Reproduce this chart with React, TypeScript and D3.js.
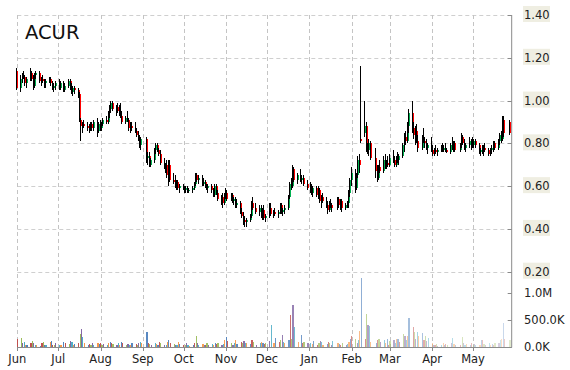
import React from "react";
import * as d3 from "d3";

type C = [number, number, number, number, number]; // open, high, low, close, volume(K)

const title = "ACUR";
const monthLabels = ["Jun", "Jul", "Aug", "Sep", "Oct", "Nov", "Dec", "Jan", "Feb", "Mar", "Apr", "May"];
const priceTicks = [0.2, 0.4, 0.6, 0.8, 1.0, 1.2, 1.4];
const volumeTicks = [0, 500000, 1000000];
const holidays = ["2018-07-04", "2018-09-03", "2018-11-22", "2018-12-05", "2018-12-25", "2019-01-01", "2019-01-21", "2019-02-18", "2019-04-19", "2019-05-27"];
const volumeColors = ["#4F81BD", "#C0504D", "#9BBB59", "#8064A2", "#4BACC6", "#F79646"];

const jun18: C[] = [
  [1.14, 1.15, 1.05, 1.06, 150], [1.06, 1.12, 1.04, 1.10, 170], [1.10, 1.13, 1.08, 1.12, 60], [1.12, 1.14, 1.10, 1.11, 90],
  [1.11, 1.12, 1.07, 1.08, 40], [1.08, 1.11, 1.06, 1.10, 30], [1.10, 1.15, 1.09, 1.13, 60], [1.13, 1.14, 1.09, 1.10, 100],
  [1.10, 1.12, 1.05, 1.07, 70], [1.07, 1.13, 1.06, 1.12, 40], [1.12, 1.14, 1.10, 1.13, 30], [1.13, 1.14, 1.08, 1.09, 20],
  [1.09, 1.11, 1.07, 1.10, 70], [1.10, 1.12, 1.08, 1.09, 80], [1.09, 1.10, 1.06, 1.08, 40], [1.08, 1.10, 1.06, 1.09, 30],
  [1.09, 1.11, 1.08, 1.10, 90], [1.10, 1.11, 1.07, 1.08, 100], [1.08, 1.09, 1.05, 1.06, 40], [1.06, 1.08, 1.04, 1.07, 30],
  [1.07, 1.09, 1.05, 1.08, 60],
];
const jul18: C[] = [
  [1.08, 1.10, 1.05, 1.06, 40], [1.06, 1.09, 1.05, 1.08, 30], [1.08, 1.09, 1.04, 1.05, 80], [1.05, 1.08, 1.04, 1.07, 60],
  [1.07, 1.10, 1.06, 1.09, 50], [1.09, 1.10, 1.05, 1.06, 110], [1.06, 1.08, 1.03, 1.04, 90], [1.04, 1.07, 1.02, 1.06, 40],
  [1.06, 1.07, 1.03, 1.05, 50], [1.05, 1.06, 1.01, 1.03, 60], [1.03, 1.04, 0.90, 0.91, 230], [0.91, 0.92, 0.81, 0.88, 330],
  [0.88, 0.90, 0.85, 0.89, 180], [0.89, 0.91, 0.87, 0.88, 70], [0.88, 0.90, 0.86, 0.87, 40], [0.87, 0.89, 0.85, 0.88, 50],
  [0.88, 0.90, 0.86, 0.89, 30], [0.89, 0.90, 0.86, 0.87, 60], [0.87, 0.91, 0.86, 0.90, 40], [0.90, 0.92, 0.83, 0.86, 70],
  [0.86, 0.90, 0.85, 0.89, 50],
];
const aug18: C[] = [
  [0.89, 0.91, 0.86, 0.87, 60], [0.87, 0.90, 0.86, 0.89, 40], [0.89, 0.92, 0.88, 0.91, 50], [0.91, 0.93, 0.89, 0.90, 30],
  [0.90, 0.95, 0.89, 0.94, 70], [0.94, 0.98, 0.92, 0.96, 90], [0.96, 1.00, 0.94, 0.99, 60], [0.99, 1.00, 0.95, 0.96, 50],
  [0.96, 0.98, 0.93, 0.97, 40], [0.97, 0.99, 0.94, 0.95, 60], [0.95, 0.98, 0.93, 0.94, 30], [0.94, 0.99, 0.92, 0.93, 90],
  [0.93, 0.95, 0.89, 0.90, 60], [0.90, 0.93, 0.89, 0.92, 40], [0.92, 0.95, 0.90, 0.91, 50], [0.91, 0.92, 0.86, 0.87, 30],
  [0.87, 0.90, 0.85, 0.88, 40], [0.88, 0.90, 0.86, 0.87, 60], [0.87, 0.90, 0.85, 0.86, 50], [0.86, 0.87, 0.83, 0.84, 40],
  [0.84, 0.86, 0.81, 0.82, 70], [0.82, 0.84, 0.78, 0.79, 80], [0.79, 0.83, 0.77, 0.82, 60],
];
const sep18: C[] = [
  [0.82, 0.83, 0.71, 0.73, 270], [0.73, 0.76, 0.70, 0.74, 60], [0.74, 0.76, 0.69, 0.70, 50], [0.70, 0.73, 0.69, 0.72, 40],
  [0.72, 0.78, 0.71, 0.77, 70], [0.77, 0.80, 0.75, 0.79, 50], [0.79, 0.80, 0.76, 0.77, 40], [0.77, 0.78, 0.74, 0.75, 90],
  [0.75, 0.77, 0.70, 0.71, 60], [0.71, 0.73, 0.68, 0.69, 30], [0.69, 0.71, 0.66, 0.70, 40], [0.70, 0.72, 0.64, 0.65, 80],
  [0.65, 0.72, 0.60, 0.70, 130], [0.70, 0.72, 0.62, 0.63, 60], [0.63, 0.66, 0.61, 0.62, 50], [0.62, 0.65, 0.59, 0.60, 40],
  [0.60, 0.63, 0.58, 0.62, 30], [0.62, 0.63, 0.58, 0.59, 90], [0.59, 0.61, 0.57, 0.60, 50],
];
const oct18: C[] = [
  [0.60, 0.61, 0.58, 0.59, 40], [0.59, 0.60, 0.57, 0.58, 30], [0.58, 0.60, 0.57, 0.59, 60], [0.59, 0.60, 0.57, 0.58, 40],
  [0.58, 0.59, 0.57, 0.58, 20], [0.58, 0.60, 0.57, 0.59, 30], [0.59, 0.62, 0.58, 0.61, 70], [0.61, 0.66, 0.60, 0.65, 200],
  [0.65, 0.66, 0.62, 0.63, 60], [0.63, 0.65, 0.61, 0.64, 40], [0.64, 0.65, 0.60, 0.61, 50], [0.61, 0.64, 0.60, 0.62, 30],
  [0.62, 0.63, 0.59, 0.60, 40], [0.60, 0.61, 0.58, 0.59, 60], [0.59, 0.61, 0.57, 0.60, 30], [0.60, 0.61, 0.57, 0.58, 50],
  [0.58, 0.59, 0.55, 0.56, 40], [0.56, 0.61, 0.55, 0.60, 70], [0.60, 0.61, 0.56, 0.57, 50], [0.57, 0.58, 0.53, 0.54, 60],
  [0.54, 0.56, 0.51, 0.55, 40], [0.55, 0.57, 0.50, 0.52, 50], [0.52, 0.57, 0.51, 0.56, 130],
];
const nov18: C[] = [
  [0.56, 0.59, 0.54, 0.57, 185], [0.57, 0.58, 0.53, 0.54, 100], [0.54, 0.57, 0.53, 0.56, 60], [0.56, 0.57, 0.52, 0.53, 40],
  [0.53, 0.55, 0.51, 0.54, 70], [0.54, 0.55, 0.50, 0.51, 130], [0.51, 0.54, 0.50, 0.52, 50], [0.52, 0.53, 0.47, 0.48, 90],
  [0.48, 0.50, 0.45, 0.46, 60], [0.46, 0.48, 0.42, 0.44, 100], [0.44, 0.46, 0.41, 0.43, 70], [0.43, 0.45, 0.41, 0.44, 60],
  [0.44, 0.47, 0.43, 0.46, 50], [0.46, 0.53, 0.45, 0.52, 120], [0.52, 0.55, 0.49, 0.50, 80], [0.50, 0.52, 0.47, 0.48, 40],
  [0.48, 0.51, 0.46, 0.50, 60], [0.50, 0.51, 0.45, 0.46, 90], [0.46, 0.50, 0.44, 0.49, 70], [0.49, 0.51, 0.44, 0.45, 50],
  [0.45, 0.47, 0.43, 0.46, 60],
];
const dec18: C[] = [
  [0.46, 0.52, 0.45, 0.50, 100], [0.50, 0.52, 0.46, 0.47, 400], [0.47, 0.49, 0.45, 0.48, 60], [0.48, 0.50, 0.46, 0.47, 160],
  [0.47, 0.49, 0.45, 0.48, 80], [0.48, 0.52, 0.47, 0.51, 120], [0.51, 0.52, 0.47, 0.48, 220], [0.48, 0.50, 0.46, 0.49, 90],
  [0.49, 0.51, 0.47, 0.50, 60], [0.50, 0.56, 0.49, 0.55, 130], [0.55, 0.62, 0.54, 0.61, 590], [0.61, 0.64, 0.58, 0.60, 140],
  [0.60, 0.70, 0.59, 0.68, 790], [0.68, 0.69, 0.62, 0.63, 360], [0.63, 0.66, 0.61, 0.65, 80], [0.65, 0.68, 0.62, 0.63, 220],
  [0.63, 0.65, 0.61, 0.64, 70], [0.64, 0.65, 0.60, 0.61, 90], [0.61, 0.63, 0.58, 0.59, 60],
];
const jan19: C[] = [
  [0.59, 0.62, 0.57, 0.60, 70], [0.60, 0.61, 0.56, 0.57, 50], [0.57, 0.60, 0.55, 0.59, 100], [0.59, 0.60, 0.55, 0.56, 40],
  [0.56, 0.60, 0.54, 0.58, 60], [0.58, 0.59, 0.52, 0.53, 110], [0.53, 0.56, 0.50, 0.55, 80], [0.55, 0.57, 0.52, 0.53, 40],
  [0.53, 0.55, 0.50, 0.51, 50], [0.51, 0.53, 0.47, 0.49, 90], [0.49, 0.53, 0.48, 0.52, 60], [0.52, 0.54, 0.50, 0.51, 30],
  [0.51, 0.52, 0.48, 0.50, 100], [0.50, 0.55, 0.49, 0.54, 70], [0.54, 0.55, 0.50, 0.51, 50], [0.51, 0.54, 0.49, 0.53, 40],
  [0.53, 0.54, 0.48, 0.50, 60], [0.50, 0.52, 0.49, 0.51, 30], [0.51, 0.53, 0.50, 0.52, 50], [0.52, 0.58, 0.50, 0.57, 80],
  [0.57, 0.64, 0.55, 0.63, 150],
];
const feb19: C[] = [
  [0.63, 0.69, 0.60, 0.66, 200], [0.66, 0.68, 0.57, 0.59, 150], [0.59, 0.66, 0.58, 0.65, 70], [0.65, 0.74, 0.64, 0.72, 120],
  [0.72, 0.75, 0.66, 0.70, 300], [0.82, 1.16, 0.80, 0.81, 1280], [0.85, 1.00, 0.83, 0.88, 150], [0.88, 0.90, 0.76, 0.78, 620],
  [0.78, 0.80, 0.75, 0.77, 400], [0.77, 0.82, 0.74, 0.80, 380], [0.80, 0.81, 0.72, 0.73, 80], [0.73, 0.78, 0.64, 0.67, 60],
  [0.67, 0.70, 0.62, 0.64, 130], [0.64, 0.70, 0.63, 0.69, 140], [0.69, 0.72, 0.66, 0.67, 90], [0.67, 0.74, 0.66, 0.72, 130],
  [0.72, 0.75, 0.68, 0.70, 60], [0.70, 0.72, 0.68, 0.71, 140], [0.71, 0.74, 0.69, 0.70, 40],
];
const mar19: C[] = [
  [0.70, 0.75, 0.69, 0.73, 100], [0.73, 0.77, 0.71, 0.72, 130], [0.72, 0.74, 0.69, 0.70, 60], [0.70, 0.74, 0.69, 0.73, 140],
  [0.73, 0.76, 0.71, 0.72, 150], [0.72, 0.75, 0.70, 0.74, 90], [0.74, 0.80, 0.73, 0.79, 230], [0.79, 0.85, 0.76, 0.83, 200],
  [0.83, 0.86, 0.79, 0.81, 120], [0.81, 0.90, 0.80, 0.88, 200], [0.88, 0.96, 0.85, 0.94, 530], [0.94, 1.00, 0.85, 0.87, 370],
  [0.87, 0.90, 0.82, 0.84, 280], [0.84, 0.88, 0.79, 0.86, 150], [0.86, 0.89, 0.80, 0.81, 280], [0.81, 0.84, 0.76, 0.78, 200],
  [0.78, 0.84, 0.77, 0.83, 250], [0.83, 0.87, 0.80, 0.81, 120], [0.81, 0.83, 0.78, 0.80, 200], [0.80, 0.82, 0.77, 0.78, 110],
  [0.78, 0.80, 0.75, 0.79, 170],
];
const apr19: C[] = [
  [0.79, 0.83, 0.76, 0.77, 60], [0.77, 0.79, 0.74, 0.75, 40], [0.75, 0.78, 0.74, 0.77, 30], [0.77, 0.79, 0.75, 0.76, 50],
  [0.76, 0.78, 0.74, 0.77, 20], [0.77, 0.79, 0.76, 0.78, 40], [0.78, 0.80, 0.76, 0.77, 60], [0.77, 0.79, 0.76, 0.78, 30],
  [0.78, 0.80, 0.76, 0.77, 50], [0.77, 0.78, 0.755, 0.76, 40], [0.76, 0.80, 0.75, 0.79, 60], [0.79, 0.83, 0.77, 0.78, 170],
  [0.78, 0.81, 0.76, 0.80, 50], [0.80, 0.81, 0.76, 0.77, 30], [0.77, 0.80, 0.76, 0.79, 40], [0.79, 0.85, 0.78, 0.83, 180],
  [0.83, 0.84, 0.79, 0.80, 60], [0.80, 0.82, 0.77, 0.78, 40], [0.78, 0.80, 0.76, 0.79, 50], [0.79, 0.83, 0.78, 0.81, 30],
  [0.81, 0.82, 0.77, 0.78, 60],
];
const may19: C[] = [
  [0.80, 0.83, 0.78, 0.79, 40], [0.79, 0.82, 0.78, 0.81, 50], [0.81, 0.82, 0.78, 0.79, 30], [0.79, 0.80, 0.75, 0.76, 40],
  [0.76, 0.78, 0.74, 0.77, 130], [0.77, 0.79, 0.75, 0.76, 130], [0.76, 0.79, 0.74, 0.78, 50], [0.78, 0.80, 0.76, 0.77, 40],
  [0.77, 0.78, 0.74, 0.75, 60], [0.75, 0.78, 0.74, 0.77, 30], [0.77, 0.79, 0.75, 0.78, 50], [0.78, 0.81, 0.76, 0.80, 40],
  [0.80, 0.81, 0.77, 0.78, 60], [0.78, 0.82, 0.77, 0.81, 70], [0.81, 0.85, 0.79, 0.84, 120], [0.84, 0.86, 0.80, 0.82, 150],
  [0.82, 0.93, 0.81, 0.91, 440], [0.91, 0.93, 0.83, 0.85, 150], [0.90, 0.91, 0.84, 0.85, 130],
];

const months: [number, number, C[]][] = [
  [2018, 5, jun18], [2018, 6, jul18], [2018, 7, aug18], [2018, 8, sep18], [2018, 9, oct18], [2018, 10, nov18],
  [2018, 11, dec18], [2019, 0, jan19], [2019, 1, feb19], [2019, 2, mar19], [2019, 3, apr19], [2019, 4, may19],
];

const fmtDay = d3.timeFormat("%Y-%m-%d");
function tradingDays(y: number, m: number): Date[] {
  const out: Date[] = [];
  for (let d = new Date(y, m, 1); d.getMonth() === m; d = new Date(y, m, d.getDate() + 1)) {
    const wd = d.getDay();
    if (wd !== 0 && wd !== 6 && !holidays.includes(fmtDay(d))) out.push(d);
  }
  return out;
}

type Row = { date: Date; o: number; h: number; l: number; c: number; v: number };
const rows: Row[] = [];
months.forEach(([y, m, arr]) => {
  const days = tradingDays(y, m);
  arr.forEach((c, i) => rows.push({ date: days[i], o: c[0], h: c[1], l: c[2], c: c[3], v: c[4] * 1000 }));
});

const W = 570, H = 370;
const X0 = 17.3, X1 = 511.7;
const x = d3.scaleTime().domain([new Date(2018, 5, 1), new Date(2019, 4, 29, 8)]).range([X0, X1]);
const yP = d3.scaleLinear().domain([0.2, 1.4]).range([271.7, 15]);
const yV = d3.scaleLinear().domain([0, 1000000]).range([346.7, 293.3]);
const monthTicks = x.ticks(d3.timeMonth.every(1)).filter((d) => x(d) >= X0 - 0.5 && x(d) <= X1);
const n = rows.length;
const opacity = d3.scaleLinear().domain([0, 120, 175, 215, n - 1]).range([1, 0.9, 0.62, 0.42, 0.3]).clamp(true);
const fmtVol = (v: number) => (v >= 1e6 ? (v / 1e6).toFixed(1) + "M" : (v / 1e3).toFixed(1) + "K");
const font = "'DejaVu Sans', Verdana, sans-serif";

export default function App() {
  return (
    <svg width={W} height={H} style={{ position: "absolute", left: 0, top: 0, background: "#fff" }} fontFamily={font}>
      {priceTicks.map((t) => (
        <line key={"hg" + t} x1={X0} x2={X1} y1={Math.round(yP(t)) + 0.5} y2={Math.round(yP(t)) + 0.5} stroke="#cfcfcf" strokeDasharray="4,3" />
      ))}
      {monthTicks.map((d, i) => (
        <line key={"vg" + i} x1={Math.round(x(d)) + 0.5} x2={Math.round(x(d)) + 0.5} y1={15} y2={347} stroke="#c4c4c4" strokeDasharray="4,3" />
      ))}
      <text x={25} y={39} fontSize={19.5} fill="#111">{title}</text>
      <g shapeRendering="crispEdges">
        {rows.map((r, i) => (
          <rect key={"v" + i} x={x(r.date) - 0.5} width={1.2} y={yV(r.v)} height={yV(0) - yV(r.v)}
            fill={volumeColors[(i + 1) % volumeColors.length]} fillOpacity={opacity(i)} />
        ))}
      </g>
      <g shapeRendering="crispEdges">
        {rows.map((r, i) => {
          const cx = Math.round(x(r.date)) - 0.5;
          const top = yP(Math.max(r.o, r.c));
          const bot = yP(Math.min(r.o, r.c));
          return (
            <g key={"c" + i}>
              <line x1={cx} x2={cx} y1={yP(r.h)} y2={yP(r.l)} stroke="#000" strokeWidth={1} />
              <rect x={cx + 0.5} width={1} y={top} height={Math.max(1, bot - top)} fill={r.c >= r.o ? "#00b050" : "#ff0000"} />
            </g>
          );
        })}
      </g>
      <line x1={X0} x2={X1} y1={347.5} y2={347.5} stroke="#8a8a8a" />
      {monthTicks.map((d, i) => (
        <g key={"mt" + i}>
          <line x1={Math.round(x(d)) + 0.5} x2={Math.round(x(d)) + 0.5} y1={347} y2={351} stroke="#8a8a8a" />
          <text x={x(d)} y={363} fontSize={11.5} textAnchor="middle" fill="#222">{monthLabels[i]}</text>
        </g>
      ))}
      <line x1={X1} x2={X1} y1={15} y2={347.5} stroke="#8a8a8a" />
      {priceTicks.map((t) => (
        <g key={"pt" + t}>
          <line x1={X1 - 4} x2={X1} y1={Math.round(yP(t)) + 0.5} y2={Math.round(yP(t)) + 0.5} stroke="#8a8a8a" />
          <rect x={523} y={yP(t) - 9} width={27} height={16} fill="#efeee2" />
          <text x={524} y={yP(t)} dy="0.35em" fontSize={11.5} fill="#222">{t.toFixed(2)}</text>
        </g>
      ))}
      {volumeTicks.map((t) => (
        <g key={"vt" + t}>
          <line x1={X1 - 4} x2={X1} y1={Math.round(yV(t)) + 0.5} y2={Math.round(yV(t)) + 0.5} stroke="#8a8a8a" />
          <text x={524} y={yV(t)} dy="0.35em" fontSize={11.5} fill="#222">{fmtVol(t)}</text>
        </g>
      ))}
    </svg>
  );
}
